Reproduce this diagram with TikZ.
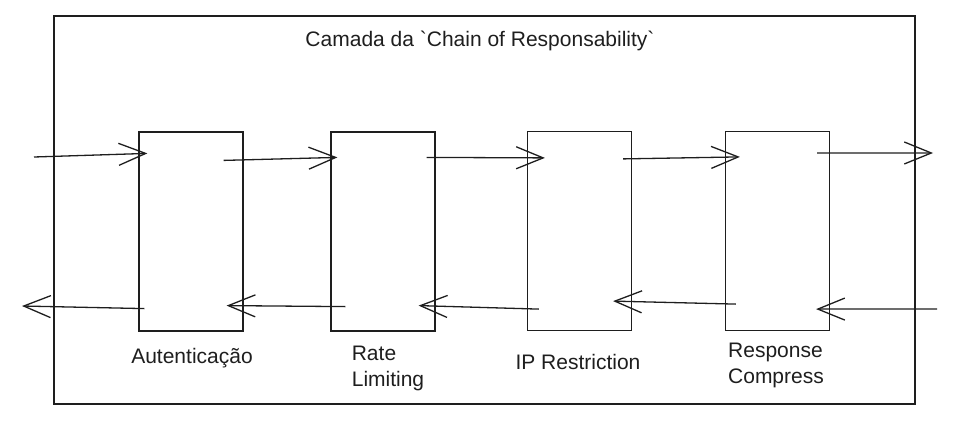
\documentclass[tikz,border=0pt]{standalone}
\usepackage{fontspec}
\setmainfont{Liberation Sans}
\usetikzlibrary{arrows.meta}
\definecolor{ink}{RGB}{30,30,30}
\tikzset{every picture/.style={x=1pt,y=-1pt}}
\tikzset{handler/.style={draw=ink,line width=1.2pt,minimum width=104pt,minimum height=199pt,inner sep=0pt}}
\tikzset{layer/.style={draw=ink,line width=1.2pt,minimum width=861pt,minimum height=388pt,inner sep=0pt}}
\tikzset{flow/.style={ink,line width=1.3pt,-{Straight Barb[length=27pt,width=22pt,line width=1.3pt]}}}
\tikzset{lbl/.style={text=ink,font=\fontsize{21}{26}\selectfont,inner sep=0pt}}

\begin{document}
\begin{tikzpicture}
\useasboundingbox (0,0) rectangle (979,436);

\node [layer] (chain) at (484.5,210) {};
\node [lbl] (title) at (480,41) {Camada da \textasciigrave Chain of Responsability\textasciigrave};

\node [handler] (auth) at (191,231.5) {};
\node [handler] (rate) at (383,231.5) {};
\node [handler] (ip) at (579.5,231) {};
\node [handler] (comp) at (777.5,231) {};

\coordinate (reqin) at (34,157);
\coordinate (reqout) at (933,153);
\coordinate (resin) at (937,309);
\coordinate (resout) at (22,306);

\draw [flow] (reqin) -- ([shift={(9,22)}]auth.north west);
\draw [flow] ([shift={(-20,29)}]auth.north east) -- ([shift={(7,26)}]rate.north west);
\draw [flow] ([shift={(-9,26)}]rate.north east) -- ([shift={(18,27)}]ip.north west);
\draw [flow] ([shift={(-9,28)}]ip.north east) -- ([shift={(15,26)}]comp.north west);
\draw [flow] ([shift={(-13,22)}]comp.north east) -- (reqout);

\draw [flow] (resin) -- ([shift={(-14,-22)}]comp.south east);
\draw [flow] ([shift={(11,-27)}]comp.south west) -- ([shift={(-19,-30)}]ip.south east);
\draw [flow] ([shift={(12,-22)}]ip.south west) -- ([shift={(-17,-26)}]rate.south east);
\draw [flow] ([shift={(15,-25)}]rate.south west) -- ([shift={(-17,-26)}]auth.south east);
\draw [flow] ([shift={(6,-23)}]auth.south west) -- (resout);

\node [lbl] (authlbl) at (192,358) {Autenticação};
\node [lbl,align=left] (ratelbl) at (388,368) {Rate\\Limiting};
\node [lbl] (iplbl) at (578,362) {IP Restriction};
\node [lbl,align=left] (complbl) at (776,365) {Response\\Compress};
\end{tikzpicture}
\end{document}
